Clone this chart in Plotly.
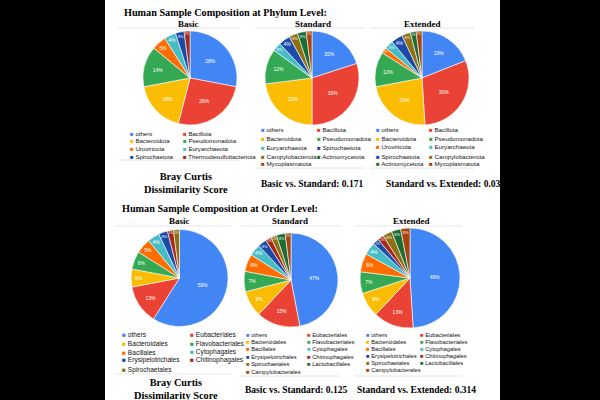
import plotly.graph_objects as go

# ---------------- data ----------------
phylum_colors = {
    "others": "#4285F4", "Bacillota": "#EA4335", "Bacteroidota": "#FBBC04",
    "Pseudomonadota": "#34A853", "Uroviricota": "#FF6D01", "Euryarchaeota": "#46BDC6",
    "Spirochaetota": "#1C4AA8", "Thermodesulfobacteriota": "#A52A1C",
    "Campylobacterota": "#8F6E14", "Actinomycetota": "#1B6E33", "Mycoplasmatota": "#A8430C",
}
order_colors = {
    "others": "#4285F4", "Eubacteriales": "#EA4335", "Bacteroidales": "#FBBC04",
    "Flavobacteriales": "#34A853", "Bacillales": "#FF6D01", "Cytophagales": "#46BDC6",
    "Erysipelotrichales": "#1C4AA8", "Chitinophagales": "#A52A1C",
    "Spirochaetales": "#8F6E14", "Lactobacillales": "#1B6E33", "Campylobacterales": "#A8430C",
}

phylum_basic_labels = ["others", "Bacillota", "Bacteroidota", "Pseudomonadota", "Uroviricota",
                       "Euryarchaeota", "Spirochaetota", "Thermodesulfobacteriota"]
phylum_basic_values = [28, 26, 18, 14, 5, 4, 3, 2]

phylum_standard_labels = ["others", "Bacillota", "Bacteroidota", "Pseudomonadota", "Euryarchaeota",
                          "Spirochaetota", "Campylobacterota", "Actinomycetota", "Mycoplasmatota"]
phylum_standard_values = [20, 30, 23, 12, 3, 4, 3, 3, 2]

phylum_extended_labels = ["others", "Bacillota", "Bacteroidota", "Pseudomonadota", "Uroviricota",
                          "Euryarchaeota", "Spirochaetota", "Campylobacterota", "Actinomycetota",
                          "Mycoplasmatota"]
phylum_extended_values = [19, 30, 23, 12, 2, 3, 4, 3, 2, 2]

order_basic_labels = ["others", "Eubacteriales", "Bacteroidales", "Flavobacteriales", "Bacillales",
                      "Cytophagales", "Erysipelotrichales", "Chitinophagales", "Spirochaetales"]
order_basic_values = [59, 13, 6, 6, 5, 4, 3, 2, 2]

order_standard_labels = ["others", "Eubacteriales", "Bacteroidales", "Flavobacteriales", "Bacillales",
                         "Cytophagales", "Erysipelotrichales", "Chitinophagales", "Spirochaetales",
                         "Lactobacillales", "Campylobacterales"]
order_standard_values = [47, 15, 9, 7, 6, 4, 3, 2, 2, 3, 2]

order_extended_labels = order_standard_labels
order_extended_values = [49, 13, 8, 7, 6, 4, 2, 2, 3, 3, 3]

section_titles = ["Human Sample Composition at Phylum Level:", "Human Sample Composition at Order Level:"]
chart_titles = ["Basic", "Standard", "Extended"]
phylum_scores = ["Bray Curtis<br>Dissimilarity Score", "Basic vs. Standard: 0.171", "Standard vs. Extended: 0.035"]
order_scores = ["Bray Curtis<br>Dissimilarity Score", "Basic vs. Standard: 0.125", "Standard vs. Extended: 0.314"]

# ---------------- layout helpers ----------------
W, H = 600, 400
def px(x): return x / W
def py(y): return 1 - y / H

fig = go.Figure()

pies = [
    (phylum_basic_labels, phylum_basic_values, phylum_colors, 190, 78, 47),
    (phylum_standard_labels, phylum_standard_values, phylum_colors, 312, 78, 47),
    (phylum_extended_labels, phylum_extended_values, phylum_colors, 422, 78, 47),
    (order_basic_labels, order_basic_values, order_colors, 179.5, 278, 48.5),
    (order_standard_labels, order_standard_values, order_colors, 291, 280, 47),
    (order_extended_labels, order_extended_values, order_colors, 410, 278, 50),
]
for labels, values, cmap, cx, cy, r in pies:
    fig.add_trace(go.Pie(
        labels=labels, values=values, sort=False, direction="clockwise", rotation=0,
        marker=dict(colors=[cmap[l] for l in labels], line=dict(color="white", width=0.6)),
        texttemplate="%{percent:.0%}", textposition="inside", insidetextorientation="horizontal",
        textfont=dict(color="white", size=5, family="Liberation Sans"),
        domain=dict(x=[px(cx - r), px(cx + r)], y=[py(cy + r), py(cy - r)]),
        showlegend=False, hoverinfo="label+percent",
    ))

annotations = []
def text(x, y, s, size, family="Liberation Serif", bold=True, color="black", xanchor="center"):
    annotations.append(dict(
        x=px(x), y=py(y), xref="paper", yref="paper", showarrow=False,
        text=f"<b>{s}</b>" if bold else s, xanchor=xanchor, yanchor="middle", align="center",
        font=dict(size=size, family=family, color=color)))

# section titles
text(122, 12, section_titles[0], 10.2, xanchor="left")
text(120, 208, section_titles[1], 10.2, xanchor="left")

# chart subtitles
for t, x in zip(chart_titles, [188, 313, 422]):
    text(x, 24, t, 9)
for t, x in zip(chart_titles, [179, 290, 411]):
    text(x, 221, t, 9)

# scores
text(186, 183, phylum_scores[0], 10.3)
text(312, 184, phylum_scores[1], 9.5)
text(384, 184, phylum_scores[2], 9.5, xanchor="left")
text(176, 389, order_scores[0], 10.3)
text(296, 390, order_scores[1], 9.5)
text(416, 390, order_scores[2], 9.5)

# legends (two columns)
def legend(labels, cmap, cols, rows, size):
    for i, lab in enumerate(labels):
        x = cols[i % 2]
        y = rows[i // 2]
        annotations.append(dict(
            x=px(x), y=py(y), xref="paper", yref="paper", showarrow=False, xanchor="left", yanchor="middle",
            text=f'<span style="color:{cmap[lab]}">■</span> {lab}',
            font=dict(size=size, family="Liberation Sans", color="#111")))

legend(phylum_basic_labels, phylum_colors, [128, 181], [133, 140.7, 148.3, 156.3], 6.1)
legend(phylum_standard_labels, phylum_colors, [259, 315], [130, 139, 147.3, 156, 163.5], 6.2)
legend(phylum_extended_labels, phylum_colors, [373.5, 427], [130, 139, 147, 156, 164], 6.2)
legend(order_basic_labels, order_colors, [120, 188], [334, 343, 352, 360, 370], 6.6)
legend(order_standard_labels, order_colors, [244, 305], [335, 342, 349, 357, 364, 372], 5.8)
legend(order_extended_labels, order_colors, [364, 418], [335, 342, 349, 356, 363, 370], 5.8)

shapes = [dict(type="rect", xref="paper", yref="paper", x0=px(105), x1=px(500), y0=0, y1=1,
               fillcolor="white", line=dict(width=0), layer="below")]
def hline(x0, x1, y):
    shapes.append(dict(type="line", xref="paper", yref="paper", x0=px(x0), x1=px(x1), y0=py(y), y1=py(y),
                       line=dict(color="#e6e6e6", width=1), layer="below"))
for x0, x1 in [(118, 240), (255, 365), (370, 475)]:
    hline(x0, x1, 28)
    hline(x0, x1, 160 if x0 == 118 else 168)
for x0, x1 in [(115, 232), (240, 340), (355, 462)]:
    hline(x0, x1, 226)
    hline(x0, x1, 374 if x0 == 115 else 376)

fig.update_layout(
    width=W, height=H, margin=dict(l=0, r=0, t=0, b=0),
    paper_bgcolor="black", plot_bgcolor="white",
    annotations=annotations, shapes=shapes,
)
fig.write_html("out.html", config={"displayModeBar": False},
               post_script="document.body.style.margin='0';document.body.style.overflow='hidden';")
